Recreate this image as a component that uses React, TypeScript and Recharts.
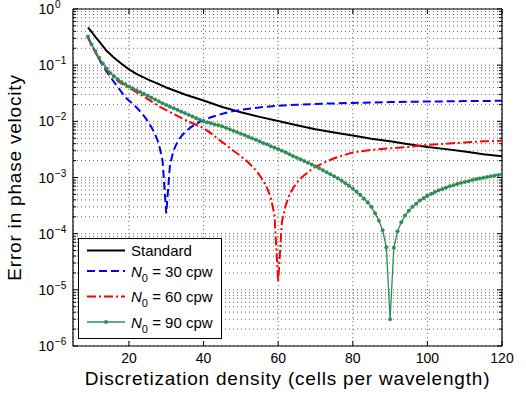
import React from 'react';
import {
  LineChart,
  Line,
  XAxis,
  YAxis,
  CartesianGrid,
  Legend,
  ReferenceLine,
} from 'recharts';

// Cells per wavelength and error in phase velocity
const standardCells = [9, 10, 11, 12, 14, 16, 18, 20, 22, 25, 28, 30, 35, 40, 45, 50, 55, 60, 65, 70, 75, 80, 85, 90, 95, 100, 105, 110, 115, 120];
const standardError = [0.47, 0.39, 0.32, 0.265, 0.18, 0.136, 0.106, 0.084, 0.07, 0.056, 0.046, 0.04, 0.03, 0.0235, 0.018, 0.0145, 0.012, 0.0101, 0.0085, 0.0072, 0.0063, 0.0056, 0.0049, 0.0044, 0.0039, 0.0035, 0.0032, 0.0029, 0.0026, 0.0024];

const n30Cells = [9, 10, 11, 12, 13, 14, 15, 16, 17, 18, 19, 20, 21, 22, 23, 24, 25, 26, 27, 28, 29, 30, 31, 32, 33, 34, 35, 36, 37, 38, 39, 40, 42, 44, 46, 48, 50, 55, 60, 65, 70, 80, 90, 100, 110, 120];
const n30Error = [0.32, 0.23, 0.172, 0.13, 0.097, 0.077, 0.062, 0.05, 0.041, 0.033, 0.027, 0.0235, 0.0205, 0.0178, 0.015, 0.0125, 0.0102, 0.0079, 0.0059, 0.004, 0.002, 0.00023, 0.0017, 0.0031, 0.0043, 0.0054, 0.0064, 0.0073, 0.0082, 0.009, 0.0098, 0.0105, 0.0118, 0.013, 0.0142, 0.0152, 0.016, 0.0177, 0.0189, 0.0197, 0.0204, 0.0213, 0.022, 0.0225, 0.0229, 0.0232];

const n60Cells = [9, 10, 11, 12, 13, 14, 15, 16, 17, 18, 19, 20, 22, 24, 26, 28, 30, 32, 34, 36, 38, 40, 42, 44, 46, 48, 50, 52, 54, 55, 56, 57, 58, 59, 60, 61, 62, 63, 64, 65, 66, 67, 68, 69, 70, 72, 75, 80, 85, 90, 95, 100, 105, 110, 115, 120];
const n60Error = [0.31, 0.226, 0.17, 0.13, 0.102, 0.083, 0.069, 0.06, 0.053, 0.047, 0.043, 0.0395, 0.033, 0.0275, 0.0226, 0.0186, 0.0158, 0.0135, 0.0115, 0.0099, 0.0087, 0.0076, 0.0061, 0.0048, 0.0038, 0.003, 0.0024, 0.00185, 0.00135, 0.0011, 0.00088, 0.00066, 0.00044, 0.00022, 0.000014, 0.00016, 0.00032, 0.00049, 0.00065, 0.0008, 0.00096, 0.0011, 0.00125, 0.0014, 0.00155, 0.0018, 0.0022, 0.0028, 0.0031, 0.0033, 0.0035, 0.0038, 0.004, 0.0042, 0.0044, 0.0045];

// N0 = 90 has a marker at every integer cell count, 9 .. 120
const n90Error = [
  0.324, 0.234, 0.178, 0.135, 0.107, 0.087, 0.0724, 0.0631, 0.0562, 0.0501,
  0.0457, 0.0417, 0.0386, 0.0358, 0.0332, 0.0308, 0.0285, 0.0264, 0.0245, 0.0227,
  0.021, 0.0195, 0.0182, 0.0171, 0.016, 0.0149, 0.014, 0.0131, 0.0122, 0.0114,
  0.0107, 0.01, 0.0096, 0.0092, 0.0088, 0.0085, 0.0081, 0.0077, 0.0072, 0.0068,
  0.0064, 0.006, 0.0057, 0.0053, 0.005, 0.0047, 0.0044, 0.0041, 0.0039, 0.0036,
  0.0034, 0.0032, 0.003, 0.0028, 0.0026, 0.0024, 0.00225, 0.0021, 0.00196, 0.00183,
  0.0017, 0.00158, 0.00146, 0.00135, 0.00124, 0.00114, 0.00105, 0.00097, 0.00088, 0.00079,
  0.00071, 0.00063, 0.00056, 0.00049, 0.00042, 0.00036, 0.0003, 0.00023, 0.00017, 0.000115,
  0.000057, 0.000003, 0.000056, 0.00011, 0.00016, 0.00021, 0.000255, 0.0003, 0.00034, 0.00039,
  0.00043, 0.00047, 0.00051, 0.00055, 0.00059, 0.00062, 0.00066, 0.0007, 0.00073, 0.00077,
  0.0008, 0.00083, 0.00086, 0.0009, 0.00093, 0.00096, 0.00099, 0.00102, 0.00105, 0.00108,
  0.00111, 0.00114,
];
const n90Cells = n90Error.map((_, i) => 9 + i);

const xTicks = [20, 40, 60, 80, 100, 120];
const yDecades = [-6, -5, -4, -3, -2, -1, 0];
const yMinorSteps = [1, 2, 3, 4, 5, 6, 7, 8, 9];
const yTicks = yDecades.flatMap((e) => yMinorSteps.map((m) => m * 10 ** e)).filter((v) => v <= 1);

const W = 526;
const H = 395;
const MARGIN = { top: 9, right: 24, left: 0, bottom: 0 };
const PLOT_TOP = MARGIN.top;
const PLOT_RIGHT = W - MARGIN.right;
const FONT = '"Liberation Sans", Arial, Helvetica, sans-serif';
const GREEN = '#2e8b57';

const toPoints = (cells: number[], err: number[]) => cells.map((n, i) => ({ n, err: err[i] }));

const series = [
  { key: 'std', cells: standardCells, error: standardError, color: '#000000', width: 2, dash: undefined as string | undefined },
  { key: 'n30', cells: n30Cells, error: n30Error, color: '#0000ff', width: 2, dash: '8 4' },
  { key: 'n60', cells: n60Cells, error: n60Error, color: '#ff0000', width: 2, dash: '9 3 2 3' },
  { key: 'n90', cells: n90Cells, error: n90Error, color: GREEN, width: 1.3, dash: undefined },
];

const XTick = ({ x, y, payload }: any) => (
  <g>
    <line x1={x} x2={x} y1={y} y2={y - 5} stroke="#000" />
    <line x1={x} x2={x} y1={PLOT_TOP} y2={PLOT_TOP + 5} stroke="#000" />
    <text x={x} y={y + 16.5} textAnchor="middle" fontSize={14} fill="#000">
      {payload.value}
    </text>
  </g>
);

const YTick = ({ x, y, payload }: any) => {
  const v = payload.value;
  const exp = Math.round(Math.log10(v));
  const major = Math.abs(Math.log10(v) - exp) < 1e-6;
  const len = major ? 5 : 3;
  return (
    <g>
      <line x1={x} x2={x + len} y1={y} y2={y} stroke="#000" />
      <line x1={PLOT_RIGHT - len} x2={PLOT_RIGHT} y1={y} y2={y} stroke="#000" />
      {major && (
        <text x={x - 19} y={y + 5} textAnchor="end" fontSize={14} fill="#000">10</text>
      )}
      {major && (
        <text x={x - 18} y={y - 1} fontSize={10} fill="#000">{exp === 0 ? '0' : `\u2212${-exp}`}</text>
      )}
    </g>
  );
};

const legendRows = [
  { key: 'std', label: 'Standard', y: 12.5 },
  { key: 'n30', label: '30', y: 33 },
  { key: 'n60', label: '60', y: 58.5 },
  { key: 'n90', label: '90', y: 84 },
];

const LegendBox = () => (
  <svg width={144} height={101} style={{ display: 'block', fontFamily: FONT }}>
    <rect x={0.5} y={0.5} width={143} height={100} fill="#fff" stroke="#000" />
    {legendRows.map((row) => {
      const s = series.find((d) => d.key === row.key)!;
      return (
        <g key={row.key}>
          <line x1={9} x2={47} y1={row.y} y2={row.y} stroke={s.color} strokeWidth={s.width} strokeDasharray={s.dash} />
          {row.key === 'n90' && <circle cx={28} cy={row.y} r={1.9} fill={GREEN} />}
          {row.key === 'std' ? (
            <text x={53} y={row.y + 5.5} fontSize={15} fill="#000">Standard</text>
          ) : (
            <text x={53} y={row.y + 5.5} fontSize={15} fill="#000">
              <tspan fontStyle="italic">N</tspan>
              <tspan dy={5} fontSize={11}>0</tspan>
              <tspan dy={-5}>{` = ${row.label} cpw`}</tspan>
            </text>
          )}
        </g>
      );
    })}
  </svg>
);

export default function App() {
  return (
    <div style={{ position: 'absolute', left: 0, top: 0, width: W, height: H, background: '#fff', fontFamily: FONT }}>
      <LineChart width={W} height={H} margin={MARGIN}>
        <CartesianGrid stroke="#666" strokeDasharray="1 3" />
        <XAxis
          dataKey="n"
          type="number"
          domain={[5, 120]}
          ticks={xTicks}
          allowDataOverflow
          height={49}
          tickSize={0}
          tickMargin={0}
          tick={XTick}
          axisLine={{ stroke: '#000', strokeWidth: 1.2 }}
          label={{ value: 'Discretization density (cells per wavelength)', position: 'insideBottom', offset: 10, fontSize: 19, fill: '#000', style: { letterSpacing: '0.8px' } }}
        />
        <YAxis
          type="number"
          scale="log"
          domain={[1e-6, 1]}
          ticks={yTicks}
          interval={0}
          allowDataOverflow
          width={73}
          tickSize={0}
          tickMargin={0}
          tick={YTick}
          axisLine={{ stroke: '#000', strokeWidth: 1.2 }}
          label={{ value: 'Error in phase velocity', angle: -90, position: 'insideLeft', offset: 14, fontSize: 19, fill: '#000', style: { textAnchor: 'middle', letterSpacing: '0.8px' } }}
        />
        <ReferenceLine y={1} stroke="#000" strokeWidth={1.2} />
        <ReferenceLine x={120} stroke="#000" strokeWidth={1.2} />
        {series.map((s) => (
          <Line
            key={s.key}
            data={toPoints(s.cells, s.error)}
            dataKey="err"
            type="linear"
            stroke={s.color}
            strokeWidth={s.width}
            strokeDasharray={s.dash}
            dot={s.key === 'n90' ? { r: 1.8, fill: GREEN, stroke: GREEN, strokeWidth: 0.4 } : false}
            isAnimationActive={false}
          />
        ))}
        <Legend
          layout="horizontal"
          verticalAlign="middle"
          align="center"
          content={() => <LegendBox />}
          wrapperStyle={{ left: 78, top: 238, width: 144, height: 101 }}
        />
      </LineChart>
    </div>
  );
}
